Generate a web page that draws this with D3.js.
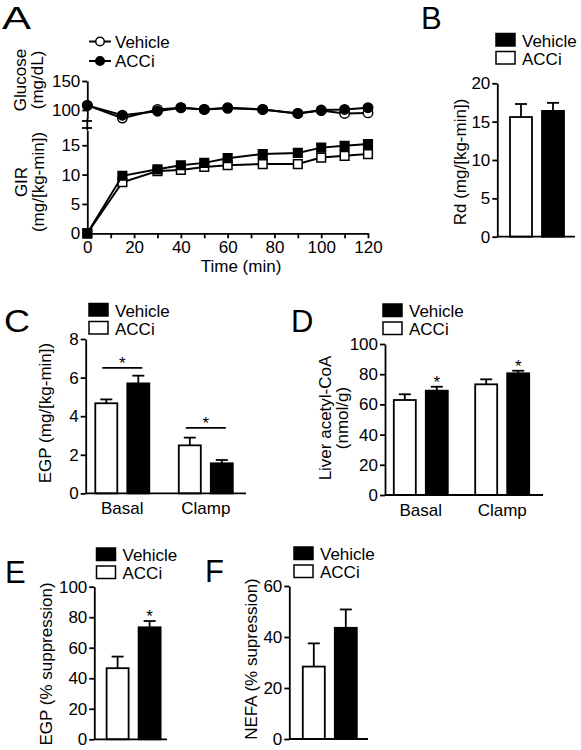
<!DOCTYPE html>
<html><head><meta charset="utf-8">
<script src="https://cdn.jsdelivr.net/npm/d3@7"></script>
<style>
body{margin:0;background:#fff;}
svg{font-family:"Liberation Sans",Arial,Helvetica,sans-serif;display:block;}
</style></head><body>
<svg id="c" width="581" height="750"></svg>
<script>
// ---------------- DATA ----------------
const seriesNames = ["Vehicle", "ACCi"];
const barOrder = ["ACCi", "Vehicle"]; // open bar first, filled second

// Panel A
const timePoints = [0, 15, 30, 40, 50, 60, 75, 90, 100, 110, 120];
const timeTicks = [0, 10, 20, 30, 40, 50, 60, 70, 80, 90, 100, 110, 120];
const timeTickLabels = [0, 20, 40, 60, 80, 100, 120];
const glucoseVehicle = [108, 86, 101, 104, 101, 104, 101, 94, 99, 94, 95];
const glucoseACCi    = [108, 91, 98, 104, 101, 103, 101, 94, 100, 101, 104];
const glucoseErrVehicle = [2, 2, 2, 2, 3, 2, 2, 2, 2, 2, 2];
const glucoseErrACCi    = [2, 2, 2, 2, 5, 2, 2, 2, 2, 2, 2];
const girVehicle = [0, 8.7, 10.6, 10.8, 11.3, 11.6, 11.8, 11.8, 12.9, 13.2, 13.5];
const girACCi    = [0, 9.8, 10.9, 11.6, 12.0, 12.8, 13.5, 13.7, 14.6, 14.9, 15.2];
const girErrVehicle = [0, 0.4, 0.3, 0.3, 0.3, 0.3, 0.3, 0.3, 0.4, 0.4, 0.4];
const girErrACCi    = [0, 0.4, 0.3, 0.3, 0.3, 0.3, 0.3, 0.3, 0.4, 0.4, 0.4];
const glucoseTicks = [100, 150];
const girTicks = [0, 5, 10, 15];

// Panel B
const rdVehicle = [16.4], rdACCi = [15.6];
const rdErrVehicle = [1.05], rdErrACCi = [1.7];
const rdTicks = [0, 5, 10, 15, 20];

// Panel C
const phaseGroups = ["Basal", "Clamp"];
const egpVehicle = [5.7, 1.56], egpACCi = [4.67, 2.49];
const egpErrVehicle = [0.4, 0.17], egpErrACCi = [0.2, 0.4];
const egpSigLine = [6.5, 3.4];
const egpTicks = [0, 2, 4, 6, 8];

// Panel D
const acoaVehicle = [69.1, 80.6], acoaACCi = [62.9, 73.3];
const acoaErrVehicle = [2.6, 1.7], acoaErrACCi = [3.8, 3.3];
const acoaStarVehicle = [true, true];
const acoaTicks = [0, 20, 40, 60, 80, 100];

// Panel E
const egpSupVehicle = [73.4], egpSupACCi = [46.6];
const egpSupErrVehicle = [4.1], egpSupErrACCi = [7.6];
const egpSupStarVehicle = [true];
const egpSupTicks = [0, 20, 40, 60, 80, 100];

// Panel F
const nefaVehicle = [43.6], nefaACCi = [28.4];
const nefaErrVehicle = [7.2], nefaErrACCi = [9.1];
const nefaTicks = [0, 20, 40, 60];

// ---------------- DRAWING ----------------
const svg = d3.select("#c");
const FS = 17;
const SW = 1.8;

function styleAxis(g) {
  g.selectAll("path,line").attr("stroke", "#000").attr("stroke-width", SW);
  g.selectAll("text").attr("font-size", FS).attr("fill", "#000");
  g.attr("font-family", null);
}

function panelLetter(x, y, t, len) {
  const el = svg.append("text").attr("x", x).attr("y", y).attr("font-size", 31).text(t);
  if (len) el.attr("textLength", len).attr("lengthAdjust", "spacingAndGlyphs");
}

function yLabel(lines, x0, cy) {
  lines.forEach((l, i) => {
    svg.append("text").attr("transform", `translate(${x0 + i * 17},${cy}) rotate(-90)`)
      .attr("text-anchor", "middle").attr("font-size", FS).text(l);
  });
}

function barLegend(x, y) {
  seriesNames.forEach((s, i) => {
    svg.append("rect").attr("x", x).attr("y", y + i * 18).attr("width", 19).attr("height", 12.5)
      .attr("fill", s === "Vehicle" ? "#000" : "#fff").attr("stroke", "#000").attr("stroke-width", 1.5);
    svg.append("text").attr("x", x + 26).attr("y", y + i * 18 + 13).attr("font-size", FS).text(s);
  });
}

function barPanel(cfg) {
  const y = d3.scaleLinear().domain(cfg.domain).range([cfg.y0, cfg.y1]);
  const gx = d3.scaleBand().domain(cfg.groups).range(cfg.groupRange);
  const sx = d3.scalePoint().domain(barOrder).range([-16, 16]);
  const bw = 22;
  const data = [];
  cfg.groups.forEach((g, gi) => {
    barOrder.forEach(s => {
      data.push({g, s, v: cfg.values[s][gi], e: cfg.errors[s][gi],
        star: cfg.stars && cfg.stars[s] ? cfg.stars[s][gi] : false});
    });
  });
  const cx = d => gx(d.g) + gx.bandwidth() / 2 + sx(d.s);
  const eg = svg.append("g");
  data.forEach(d => {
    eg.append("line").attr("x1", cx(d)).attr("x2", cx(d)).attr("y1", y(d.v)).attr("y2", y(d.v + d.e))
      .attr("stroke", "#000").attr("stroke-width", SW);
    eg.append("line").attr("x1", cx(d) - 6).attr("x2", cx(d) + 6).attr("y1", y(d.v + d.e)).attr("y2", y(d.v + d.e))
      .attr("stroke", "#000").attr("stroke-width", SW);
    if (d.star) {
      svg.append("text").attr("x", cx(d)).attr("y", y(d.v + d.e) + 1).attr("text-anchor", "middle")
        .attr("font-size", FS).text("*");
    }
  });
  svg.append("g").selectAll("rect").data(data).join("rect")
    .attr("x", d => cx(d) - bw / 2).attr("width", bw)
    .attr("y", d => y(d.v)).attr("height", d => y(0) - y(d.v))
    .attr("fill", d => d.s === "Vehicle" ? "#000" : "#fff")
    .attr("stroke", "#000").attr("stroke-width", SW);
  if (cfg.sig) {
    cfg.groups.forEach((g, gi) => {
      const c = gx(g) + gx.bandwidth() / 2;
      const ly = y(cfg.sig[gi]);
      svg.append("line").attr("x1", c + sx("ACCi") - 4).attr("x2", c + sx("Vehicle") + 4)
        .attr("y1", ly).attr("y2", ly).attr("stroke", "#000").attr("stroke-width", SW);
      svg.append("text").attr("x", c).attr("y", ly + 1).attr("text-anchor", "middle").attr("font-size", FS).text("*");
    });
  }
  svg.append("g").attr("transform", `translate(${cfg.axisX},0)`)
    .call(d3.axisLeft(y).tickValues(cfg.ticks).tickSize(5).tickPadding(2).tickSizeOuter(0)).call(styleAxis);
  svg.append("line").attr("x1", cfg.axisX).attr("x2", cfg.axisEnd).attr("y1", y(0)).attr("y2", y(0))
    .attr("stroke", "#000").attr("stroke-width", SW);
  if (cfg.showGroups) {
    cfg.groups.forEach(g => {
      svg.append("text").attr("x", gx(g) + gx.bandwidth() / 2).attr("y", y(0) + 21)
        .attr("text-anchor", "middle").attr("font-size", FS).text(g);
    });
  }
}

// ---- Panel A ----
(function () {
  const x = d3.scaleLinear().domain([0, 120]).range([87.3, 368]);
  const yG = d3.scaleLinear().domain([85, 150]).range([118.7, 81]);
  const yR = d3.scaleLinear().domain([0, 17.5]).range([233.3, 130.6]);
  panelLetter(2, 29, "A", 29);

  svg.append("g").attr("transform", "translate(87.3,0)")
    .call(d3.axisLeft(yG).tickValues(glucoseTicks).tickSize(5).tickPadding(2).tickSizeOuter(0)).call(styleAxis);
  svg.append("g").attr("transform", "translate(87.3,0)")
    .call(d3.axisLeft(yR).tickValues(girTicks).tickSize(5).tickPadding(2).tickSizeOuter(0)).call(styleAxis);
  [121, 128].forEach(by => svg.append("line").attr("x1", 82).attr("x2", 92).attr("y1", by).attr("y2", by)
    .attr("stroke", "#000").attr("stroke-width", SW));
  svg.append("line").attr("x1", 87.3).attr("x2", 87.3).attr("y1", 118.7).attr("y2", 130.6)
    .attr("stroke", "#000").attr("stroke-width", SW);
  svg.append("g").attr("transform", `translate(0,${yR(0)})`)
    .call(d3.axisBottom(x).tickValues(timeTicks).tickSize(5).tickPadding(3).tickSizeOuter(0)
      .tickFormat(d => timeTickLabels.includes(d) ? d : "")).call(styleAxis);
  svg.append("text").attr("x", 241).attr("y", 272).attr("text-anchor", "middle").attr("font-size", FS).text("Time (min)");

  yLabel(["Glucose", "(mg/dL)"], 26, 80);
  yLabel(["GIR", "(mg/[kg-min])"], 27, 182);

  function drawSeries(vals, errs, yS, shape, filled) {
    const pts = timePoints.map((t, i) => ({t, v: vals[i], e: errs[i]}));
    svg.append("path").datum(pts)
      .attr("d", d3.line().x(d => x(d.t)).y(d => yS(d.v)))
      .attr("fill", "none").attr("stroke", "#000").attr("stroke-width", 2);
    pts.forEach(d => {
      if (d.e > 0) {
        svg.append("line").attr("x1", x(d.t)).attr("x2", x(d.t)).attr("y1", yS(d.v - d.e)).attr("y2", yS(d.v + d.e))
          .attr("stroke", "#000").attr("stroke-width", 1.5);
        [d.v - d.e, d.v + d.e].forEach(v => svg.append("line").attr("x1", x(d.t) - 3).attr("x2", x(d.t) + 3)
          .attr("y1", yS(v)).attr("y2", yS(v)).attr("stroke", "#000").attr("stroke-width", 1.5));
      }
    });
    const sym = d3.symbol().type(shape === "circle" ? d3.symbolCircle : d3.symbolSquare).size(shape === "circle" ? 70 : 75);
    svg.append("g").selectAll("path").data(pts).join("path")
      .attr("transform", d => `translate(${x(d.t)},${yS(d.v)})`).attr("d", sym)
      .attr("fill", filled ? "#000" : "#fff").attr("stroke", "#000").attr("stroke-width", 1.5);
  }
  drawSeries(glucoseVehicle, glucoseErrVehicle, yG, "circle", false);
  drawSeries(glucoseACCi, glucoseErrACCi, yG, "circle", true);
  drawSeries(girVehicle, girErrVehicle, yR, "square", false);
  drawSeries(girACCi, girErrACCi, yR, "square", true);

  seriesNames.forEach((s, i) => {
    const ly = 41.5 + i * 19.5;
    svg.append("line").attr("x1", 89).attr("x2", 111).attr("y1", ly).attr("y2", ly).attr("stroke", "#000").attr("stroke-width", 2);
    svg.append("circle").attr("cx", 100).attr("cy", ly).attr("r", 4.3)
      .attr("fill", s === "Vehicle" ? "#fff" : "#000").attr("stroke", "#000").attr("stroke-width", 1.5);
    svg.append("text").attr("x", 115).attr("y", ly + 6).attr("font-size", FS).text(s);
  });
})();

// ---- Panel B ----
panelLetter(421, 29, "B");
barLegend(496, 33.5);
barPanel({domain: [0, 20], y0: 236.7, y1: 83.3, groups: ["Rd"], groupRange: [505, 569],
  values: {Vehicle: rdVehicle, ACCi: rdACCi}, errors: {Vehicle: rdErrVehicle, ACCi: rdErrACCi},
  ticks: rdTicks, axisX: 497.3, axisEnd: 575, showGroups: false});
yLabel(["Rd (mg/[kg-min])"], 466, 162);

// ---- Panel C ----
panelLetter(4, 332, "C", 26);
barLegend(89, 303.5);
barPanel({domain: [0, 8], y0: 493.4, y1: 339, groups: phaseGroups, groupRange: [80.55, 247.55],
  values: {Vehicle: egpVehicle, ACCi: egpACCi}, errors: {Vehicle: egpErrVehicle, ACCi: egpErrACCi},
  sig: egpSigLine, ticks: egpTicks, axisX: 85.7, axisEnd: 246, showGroups: true});
yLabel(["EGP (mg/[kg-min])"], 51, 413);

// ---- Panel D ----
panelLetter(291, 332, "D");
barLegend(383, 304);
barPanel({domain: [0, 100], y0: 495, y1: 344, groups: phaseGroups, groupRange: [380.1, 542.9],
  values: {Vehicle: acoaVehicle, ACCi: acoaACCi}, errors: {Vehicle: acoaErrVehicle, ACCi: acoaErrACCi},
  stars: {Vehicle: acoaStarVehicle}, ticks: acoaTicks, axisX: 385, axisEnd: 543, showGroups: true});
yLabel(["Liver acetyl-CoA", "(nmol/g)"], 331, 418);

// ---- Panel E ----
panelLetter(5, 583, "E");
barLegend(96.5, 548);
barPanel({domain: [0, 100], y0: 739.3, y1: 586.7, groups: ["E"], groupRange: [101.6, 165.6],
  values: {Vehicle: egpSupVehicle, ACCi: egpSupACCi}, errors: {Vehicle: egpSupErrVehicle, ACCi: egpSupErrACCi},
  stars: {Vehicle: egpSupStarVehicle}, ticks: egpSupTicks, axisX: 94.3, axisEnd: 167, showGroups: false});
yLabel(["EGP (% suppression)"], 52, 664);

// ---- Panel F ----
panelLetter(205, 582, "F");
barLegend(294, 547);
barPanel({domain: [0, 60], y0: 739, y1: 586, groups: ["F"], groupRange: [297.8, 361.8],
  values: {Vehicle: nefaVehicle, ACCi: nefaACCi}, errors: {Vehicle: nefaErrVehicle, ACCi: nefaErrACCi},
  ticks: nefaTicks, axisX: 289.3, axisEnd: 368, showGroups: false});
yLabel(["NEFA (% supression)"], 257, 659);
</script>
</body></html>
